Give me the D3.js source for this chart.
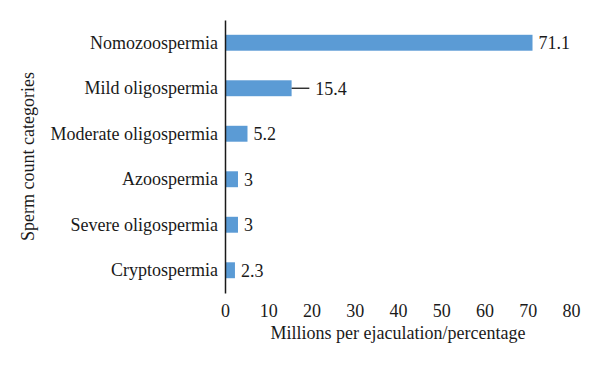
<!DOCTYPE html>
<html><head><meta charset="utf-8">
<script src="https://cdn.jsdelivr.net/npm/d3@7"></script>
<style>
body{margin:0;background:#fff;}
text{font-family:"Liberation Serif","DejaVu Serif",serif;fill:#1a1a1a;}
</style></head>
<body><svg id="chart" width="600" height="365"></svg>
<script>
const categories = ["Nomozoospermia","Mild oligospermia","Moderate oligospermia","Azoospermia","Severe oligospermia","Cryptospermia"];
const values = [71.1, 15.4, 5.2, 3, 3, 2.3];
const errorPlus = [0, 4.1, 0, 0, 0, 0];
const labels = ["71.1","15.4","5.2","3","3","2.3"];
const xTicks = [0,10,20,30,40,50,60,70,80];

const FS = 18;
const svg = d3.select("#chart");
const m = {left:225, right:29, top:20, bottom:72};
const W = 600, H = 365;
const x = d3.scaleLinear().domain([0,80]).range([m.left, W - m.right]);
const y = d3.scaleBand().domain(categories).range([m.top, H - m.bottom]).paddingInner(0.65).paddingOuter(0.325);

const rows = categories.map((c,i)=>({c, v:values[i], e:errorPlus[i], l:labels[i]}));

// bars
svg.selectAll("rect.bar").data(rows).join("rect")
  .attr("class","bar")
  .attr("x", x(0))
  .attr("y",d=>y(d.c))
  .attr("width",d=>x(d.v)-x(0))
  .attr("height",y.bandwidth())
  .attr("fill","#5b9bd5");

// error bars
svg.selectAll("line.err").data(rows.filter(d=>d.e>0)).join("line")
  .attr("class","err")
  .attr("x1",d=>x(d.v))
  .attr("x2",d=>x(d.v+d.e))
  .attr("y1",d=>y(d.c)+y.bandwidth()/2)
  .attr("y2",d=>y(d.c)+y.bandwidth()/2)
  .attr("stroke","#1a1a1a").attr("stroke-width",1.3);

// value labels
svg.selectAll("text.val").data(rows).join("text")
  .attr("class","val")
  .attr("x",d=>x(d.v+d.e)+6)
  .attr("y",d=>y(d.c)+y.bandwidth()/2)
  .attr("dy","0.35em")
  .attr("font-size",FS)
  .text(d=>d.l);

// y axis
const yAxis = d3.axisLeft(y).tickSize(0).tickPadding(7);
const gy = svg.append("g").attr("transform",`translate(${x(0)},0)`).call(yAxis);
gy.attr("font-family",null).attr("font-size",FS);
gy.select(".domain").attr("stroke","#1a1a1a").attr("stroke-width",1.5);
gy.selectAll("text").attr("fill","#1a1a1a");

// x axis
const xAxis = d3.axisBottom(x).tickValues(xTicks).tickSize(0).tickPadding(0).tickFormat(d3.format("d"));
const gx = svg.append("g").attr("transform",`translate(0,${H - m.bottom + 11})`).call(xAxis);
gx.attr("font-family",null).attr("font-size",FS);
gx.select(".domain").remove();
gx.selectAll("text").attr("fill","#1a1a1a");

// axis titles
svg.append("text").attr("x",(x(0)+x(80))/2).attr("y",339)
  .attr("text-anchor","middle").attr("font-size",FS).text("Millions per ejaculation/percentage");
svg.append("text").attr("transform",`translate(34,${(m.top + H - m.bottom)/2}) rotate(-90)`)
  .attr("text-anchor","middle").attr("font-size",FS).text("Sperm count categories");
</script></body></html>
